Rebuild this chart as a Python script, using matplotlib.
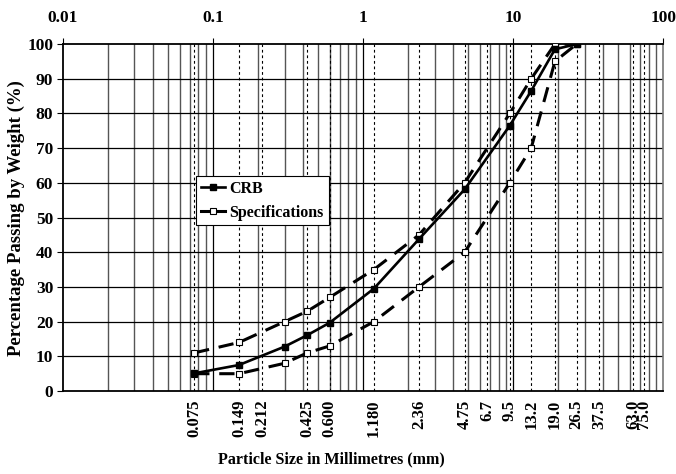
import numpy as np
import matplotlib
matplotlib.use("Agg")
import matplotlib.pyplot as plt
import matplotlib.transforms as mtransforms

plt.rcParams['font.family'] = ['Liberation Serif', 'DejaVu Serif']
plt.rcParams['font.weight'] = 'bold'

# sieve sizes (mm) used as labels / dotted lines
sieve_labels = ["0.075", "0.149", "0.212", "0.425", "0.600", "1.180", "2.36",
                "4.75", "6.7", "9.5", "13.2", "19.0", "26.5", "37.5", "63.0", "75.0"]
sieve_sizes = [float(s) for s in sieve_labels]

# grading data
sizes = [0.075, 0.149, 0.3, 0.425, 0.6, 1.18, 2.36, 4.75, 9.5, 13.2, 19.0, 26.5]
crb = [5.1, 7.5, 12.8, 16.1, 19.7, 29.5, 43.8, 58.1, 76.5, 86.5, 98.5, 100]
spec_upper = [11, 14, 20, 23, 27, 35, 45, 60, 80, 90, 100, 100]
spec_lower = [5, 5, 8, 11, 13, 20, 30, 40, 60, 70, 95, 100]

fig = plt.figure(figsize=(6.76, 4.74), dpi=100)
ax = fig.add_axes([0.093, 0.175, 0.888, 0.732])

ax.set_xscale('log')
ax.set_xlim(0.01, 100)
ax.set_ylim(0, 100)

# grid: minor verticals, sieve dotted lines, horizontal lines
for dec in [0.01, 0.1, 1, 10]:
    for m in range(2, 10):
        ax.axvline(dec * m, color='#555555', lw=1.0, zorder=1)
for dec in [0.1, 1, 10]:
    ax.axvline(dec, color='black', lw=0.9, zorder=1)
for s in sieve_sizes:
    ax.axvline(s, color='black', lw=0.8, dashes=(2.5, 2.5), zorder=1)
for yv in range(10, 100, 10):
    ax.axhline(yv, color='black', lw=0.9, zorder=1)

ax.plot(sizes, crb, color='black', lw=1.9, marker='s', markersize=4,
        markerfacecolor='black', markeredgecolor='black', zorder=4, label='CRB')
l1, = ax.plot(sizes, spec_upper, color='black', lw=2.2, marker='s', markersize=4.5,
              markerfacecolor='white', markeredgecolor='black', markeredgewidth=0.8,
              zorder=3, label='Specifications')
l2, = ax.plot(sizes, spec_lower, color='black', lw=2.2, marker='s', markersize=4.5,
              markerfacecolor='white', markeredgecolor='black', markeredgewidth=0.8,
              zorder=3)
l1.set_dashes([5, 3.2])
l2.set_dashes([5, 3.2])

# top axis decade labels
ax.xaxis.tick_top()
ax.set_xticks([0.01, 0.1, 1, 10, 100])
ax.set_xticklabels(["0.01", "0.1", "1", "10", "100"])
ax.xaxis.set_minor_locator(matplotlib.ticker.NullLocator())
ax.tick_params(axis='x', which='major', direction='out', length=4, width=0.8,
               labelsize=12.5, pad=9)
ax.set_yticks(range(0, 101, 10))
ax.tick_params(axis='y', direction='out', length=4, width=0.8, labelsize=12.5, pad=3)

for sp in ['left', 'bottom', 'top']:
    ax.spines[sp].set_linewidth(1.3)
ax.spines['right'].set_color('#777777')
ax.spines['right'].set_linewidth(1.2)

# sieve labels below the axis
trans = mtransforms.blended_transform_factory(ax.transData, ax.transAxes)
for lab, s in zip(sieve_labels, sieve_sizes):
    ax.text(s, -0.025, lab, transform=trans, rotation=90, ha='center', va='top',
            fontsize=12, fontweight='bold')

ax.set_ylabel("Percentage Passing by Weight (%)", fontsize=13.5, fontweight='bold')
ax.yaxis.label.set_va('center')
ax.yaxis.set_label_coords(-0.077, 0.5)
fig.text(0.49, 0.03, "Particle Size in Millimetres (mm)", ha='center', va='center',
         fontsize=11.5, fontweight='bold')

leg = ax.legend(loc='upper left', bbox_to_anchor=(0.222, 0.62), fontsize=11.5,
                fancybox=False, framealpha=1, edgecolor='black', borderpad=0.3,
                handlelength=1.5, handletextpad=0.3, labelspacing=0.5,
                borderaxespad=0)
leg.get_frame().set_linewidth(0.8)
for h in leg.get_lines():
    h.set_linestyle('-')

fig.savefig("out.png", dpi=100)
